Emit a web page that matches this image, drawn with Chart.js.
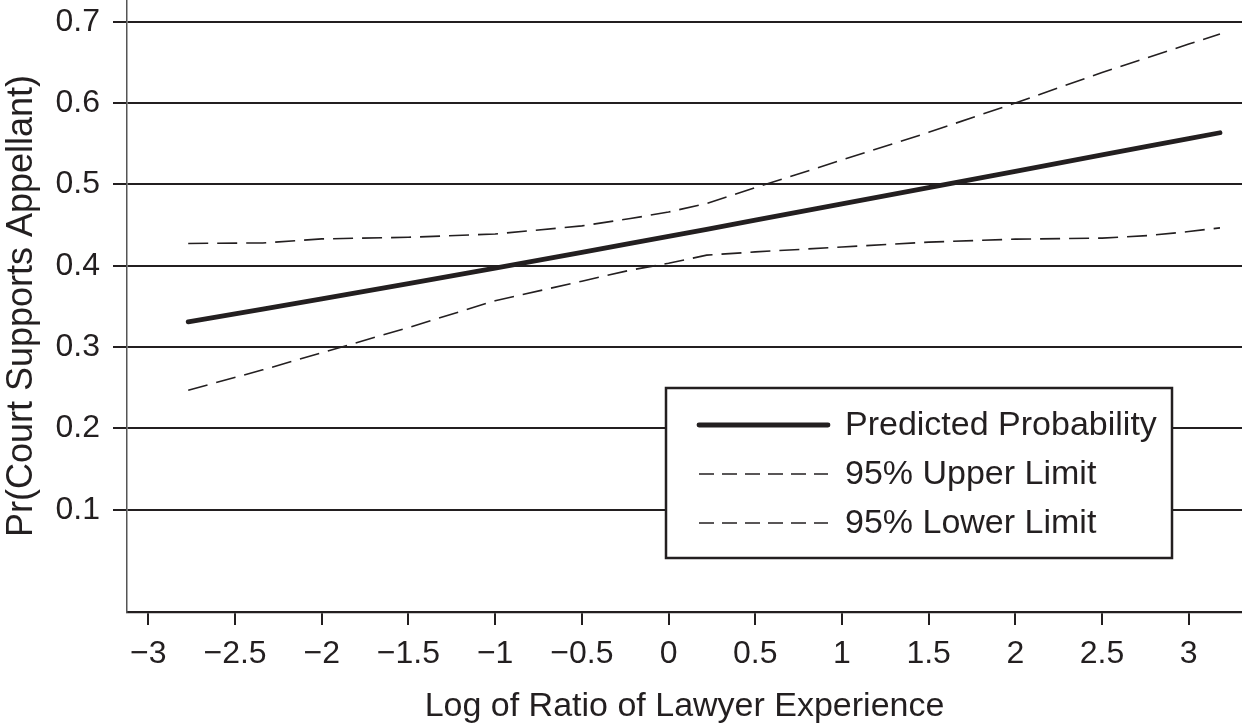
<!DOCTYPE html>
<html>
<head>
<meta charset="utf-8">
<script src="https://cdn.jsdelivr.net/npm/chart.js@4/dist/chart.umd.min.js"></script>
<style>
  html, body { margin: 0; padding: 0; background: #ffffff; }
  #wrap { width: 1242px; height: 727px; position: relative; }
  canvas { display: block; }
</style>
</head>
<body>
<div id="wrap"><canvas id="c" width="1242" height="727"></canvas></div>
<script>
// Log of ratio of lawyer experience (x positions of the computed points)
const xValues = [-2.77, -2.34, -2, -1.5, -1, -0.5, -0.22, 0, 0.22, 0.5, 1, 1.5, 2, 2.5, 2.76, 3, 3.18];
// Predicted probability
const predicted = [0.331, 0.3466, 0.3592, 0.3779, 0.397, 0.4164, 0.4274, 0.436, 0.4448, 0.456, 0.476, 0.496, 0.516, 0.5363, 0.5467, 0.5563, 0.5635];
// 95% upper limit
const upperLimit = [0.4274, 0.428, 0.433, 0.435, 0.439, 0.449, 0.458, 0.466, 0.4766, 0.496, 0.530, 0.564, 0.600, 0.6376, 0.6557, 0.6725, 0.685];
// 95% lower limit
const lowerLimit = [0.247, 0.272, 0.293, 0.324, 0.357, 0.381, 0.3946, 0.403, 0.413, 0.417, 0.423, 0.429, 0.4327, 0.434, 0.437, 0.442, 0.4466];

const seriesLabels = ['Predicted Probability', '95% Upper Limit', '95% Lower Limit'];
const xTickValues = [-3, -2.5, -2, -1.5, -1, -0.5, 0, 0.5, 1, 1.5, 2, 2.5, 3];
const yTickValues = [0.1, 0.2, 0.3, 0.4, 0.5, 0.6, 0.7];
const xTitle = 'Log of Ratio of Lawyer Experience';
const yTitle = 'Pr(Court Supports Appellant)';

const FONT = '"Liberation Sans", Arial, Helvetica, sans-serif';
const INK = '#231f20';

function pts(ys) { return xValues.map((x, i) => ({ x: x, y: ys[i] })); }
function fmt(v) {
  const s = String(Math.round(Math.abs(v) * 10) / 10);
  return v < 0 ? '\u2212' + s : s;
}

const boxLegend = {
  id: 'boxLegend',
  afterDraw(chart) {
    const ctx = chart.ctx;
    const ca = chart.chartArea;
    const bx = ca.left + 539, by = ca.top + 388, bw = 506, bh = 170;
    ctx.save();
    ctx.fillStyle = '#ffffff';
    ctx.fillRect(bx, by, bw, bh);
    ctx.strokeStyle = INK;
    ctx.lineWidth = 2.5;
    ctx.setLineDash([]);
    ctx.strokeRect(bx, by, bw, bh);
    const rows = [37, 86, 135];
    chart.data.datasets.forEach((ds, i) => {
      const y = by + rows[i];
      ctx.beginPath();
      ctx.strokeStyle = INK;
      ctx.lineWidth = ds.borderWidth;
      ctx.lineCap = i === 0 ? 'round' : 'butt';
      ctx.setLineDash(i === 0 ? [] : [15, 8]);
      ctx.moveTo(bx + 33, y);
      ctx.lineTo(bx + 162, y);
      ctx.stroke();
      ctx.setLineDash([]);
      ctx.fillStyle = INK;
      ctx.font = '34px ' + FONT;
      ctx.textBaseline = 'middle';
      ctx.textAlign = 'left';
      ctx.fillText(ds.label, bx + 179, y + 1);
    });
    ctx.restore();
  }
};

new Chart(document.getElementById('c'), {
  type: 'line',
  data: {
    datasets: [
      { label: seriesLabels[0], data: pts(predicted), borderColor: INK, borderWidth: 4.8,
        borderCapStyle: 'round', pointRadius: 0, tension: 0, fill: false },
      { label: seriesLabels[1], data: pts(upperLimit), borderColor: INK, borderWidth: 1.6,
        borderDash: [20, 9], pointRadius: 0, tension: 0, fill: false },
      { label: seriesLabels[2], data: pts(lowerLimit), borderColor: INK, borderWidth: 1.6,
        borderDash: [20, 9], pointRadius: 0, tension: 0, fill: false }
    ]
  },
  options: {
    responsive: false,
    animation: false,
    devicePixelRatio: 1,
    layout: { padding: 0 },
    plugins: { legend: { display: false }, tooltip: { enabled: false } },
    scales: {
      x: {
        type: 'linear',
        min: -3.123,
        max: 3.307,
        afterBuildTicks(s) { s.ticks = xTickValues.map(v => ({ value: v })); },
        afterFit(s) { s.height = 115; s.paddingLeft = 0; s.paddingRight = 0; },
        grid: { drawOnChartArea: false, drawTicks: true, tickLength: 13, color: INK, lineWidth: 2 },
        border: { color: INK, width: 2.2 },
        ticks: { color: INK, font: { family: FONT, size: 32 }, padding: 10, maxRotation: 0, autoSkip: false,
                 callback: v => fmt(v) },
        title: { display: true, text: xTitle, color: INK, font: { family: FONT, size: 34 },
                 padding: { top: 14, bottom: 0 } }
      },
      y: {
        type: 'linear',
        min: -0.0257,
        max: 0.7267,
        afterBuildTicks(s) { s.ticks = yTickValues.map(v => ({ value: v })); },
        afterFit(s) { s.width = 127; s.paddingTop = 0; s.paddingBottom = 0; },
        grid: { drawOnChartArea: true, drawTicks: true, tickLength: 14, color: INK, lineWidth: 2 },
        border: { color: '#555555', width: 1.5 },
        ticks: { color: INK, font: { family: FONT, size: 32 }, padding: 13, autoSkip: false,
                 callback: v => fmt(v) },
        title: { display: true, text: yTitle, color: INK, font: { family: FONT, size: 36 },
                 padding: { top: 0, bottom: 2 } }
      }
    }
  },
  plugins: [boxLegend]
});
</script>
</body>
</html>
